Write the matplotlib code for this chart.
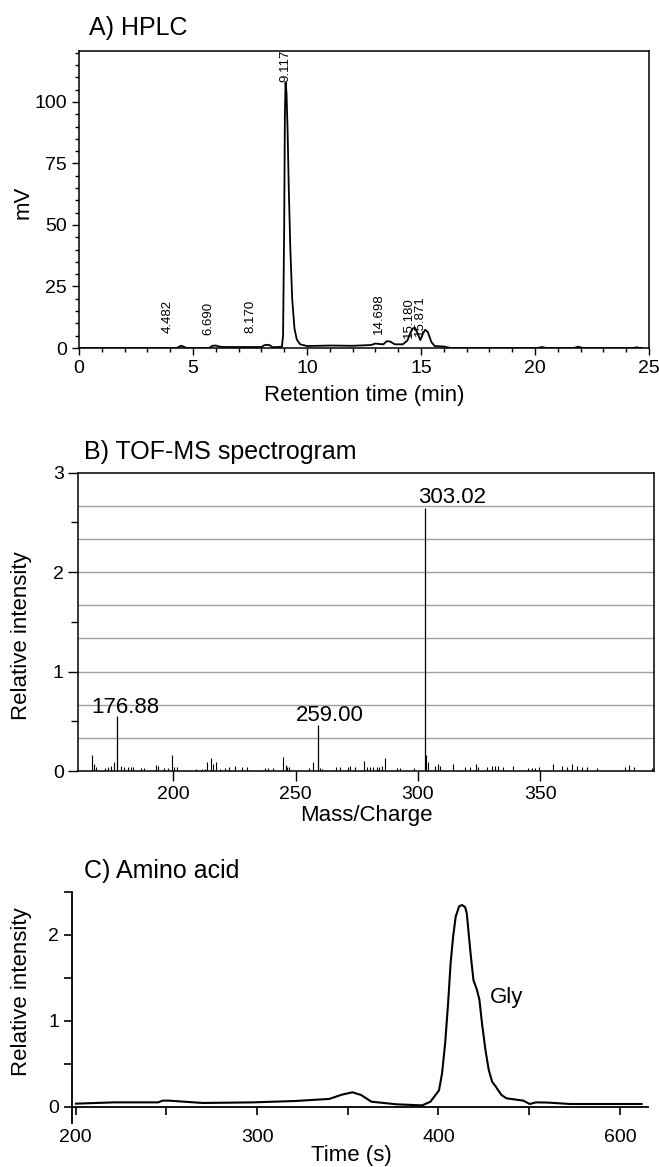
import matplotlib
matplotlib.use("Agg")
import matplotlib.pyplot as plt
from matplotlib.ticker import MultipleLocator, FixedLocator

plt.rcParams['font.family'] = ['Liberation Sans', 'DejaVu Sans']

# ---------------- Panel A: HPLC chromatogram ----------------
hplc_time = [0.0, 4.3, 4.42, 4.5, 4.58, 4.7, 5.7, 5.85, 6.0, 6.2, 6.5, 8.0, 8.12, 8.2, 8.35, 8.5,
             8.9, 8.95, 9.0, 9.03, 9.06, 9.1, 9.15, 9.2, 9.27, 9.35, 9.45, 9.55, 9.7, 10.0,
             11.0, 12.0, 12.8, 13.0, 13.2, 13.35, 13.5, 13.65, 13.85, 14.2, 14.4, 14.55, 14.65,
             14.74, 14.85, 14.97, 15.07, 15.18, 15.3, 15.45, 15.6, 16.0, 16.3,
             20.1, 20.3, 20.5, 21.7, 21.9, 22.1, 24.3, 24.45, 24.6, 24.7]
hplc_mv = [0.0, 0.0, 0.7, 0.9, 0.6, 0.0, 0.0, 0.9, 1.0, 0.5, 0.4, 0.4, 1.1, 1.3, 1.2, 0.3,
           0.5, 5.0, 50.0, 95.0, 108.0, 104.0, 88.0, 65.0, 40.0, 20.0, 8.0, 3.5, 1.5, 0.8,
           1.0, 0.9, 1.2, 1.8, 1.6, 1.5, 2.8, 2.6, 1.5, 1.5, 3.0, 6.5, 8.0,
           8.2, 6.0, 3.2, 5.5, 7.4, 6.5, 2.5, 0.8, 0.6, 0.0,
           0.0, 0.4, 0.0, 0.0, 0.5, 0.0, 0.0, 0.3, 0.0, 0.0]
hplc_labels = ["4.482", "6.690", "8.170", "9.117", "14.698", "15.180", "15.871"]
hplc_label_x = [3.90, 5.66, 7.53, 9.05, 13.16, 14.46, 14.96]
hplc_label_y = [6.1, 5.3, 6.1, 108.3, 5.5, 4.1, 5.0]

# ---------------- Panel B: TOF-MS spectrum ----------------
ms_main_mz = [176.88, 259.00, 303.02]
ms_main_int = [0.556, 0.463, 2.643]
ms_label_x = [180.4, 263.8, 313.8]
ms_label_y = [0.584, 0.503, 2.696]
ms_noise_mz = [167.0, 167.7, 168.4, 172.1, 173.4, 174.4, 175.9, 178.6, 180.0, 181.6, 182.6, 183.6,
               186.8, 188.0, 192.8, 193.9, 196.2, 198.0, 199.5, 200.4, 201.4, 209.3, 211.6, 213.0,
               213.9, 215.3, 216.1, 217.5, 219.1, 221.3, 222.9, 225.2, 228.0, 230.0, 237.5, 238.8,
               240.9, 245.0, 246.0, 246.6, 247.4, 255.6, 257.0, 260.0, 260.7, 266.5, 268.2, 271.5,
               272.2, 274.3, 278.0, 279.1, 280.4, 281.8, 283.2, 284.2, 285.2, 286.5, 291.3, 292.7,
               298.4, 303.5, 304.2, 307.0, 308.0, 309.0, 314.5, 319.3, 321.3, 323.6, 324.4, 328.1,
               330.2, 331.5, 332.9, 334.9, 339.0, 345.1, 346.5, 347.9, 349.6, 355.4, 358.8, 360.8,
               362.9, 364.9, 367.0, 369.0, 373.1, 384.7, 386.4, 388.1, 395.5]
ms_noise_int = [0.161, 0.067, 0.044, 0.034, 0.044, 0.050, 0.087, 0.050, 0.037, 0.037, 0.037, 0.037,
                0.027, 0.027, 0.060, 0.050, 0.027, 0.027, 0.161, 0.044, 0.044, 0.017, 0.017, 0.017,
                0.087, 0.128, 0.067, 0.094, 0.017, 0.034, 0.044, 0.050, 0.044, 0.044, 0.027, 0.034,
                0.027, 0.144, 0.060, 0.044, 0.037, 0.027, 0.087, 0.027, 0.017, 0.037, 0.037, 0.044,
                0.050, 0.037, 0.100, 0.044, 0.037, 0.037, 0.044, 0.044, 0.050, 0.128, 0.034, 0.034,
                0.034, 0.161, 0.094, 0.050, 0.067, 0.050, 0.067, 0.037, 0.037, 0.070, 0.044, 0.037,
                0.050, 0.050, 0.050, 0.044, 0.050, 0.027, 0.027, 0.027, 0.037, 0.067, 0.050, 0.044,
                0.067, 0.050, 0.044, 0.037, 0.027, 0.044, 0.060, 0.044, 0.027]

# ---------------- Panel C: amino acid trace ----------------
aa_time = [200.1, 221.1, 245.5, 247.8, 251.3, 270.0, 297.9, 321.1, 339.8, 346.8, 352.6, 357.3,
           363.0, 377.0, 391.0, 395.6, 400.3, 402.0, 403.7, 405.3, 406.7, 408.1, 409.5, 411.4,
           413.0, 414.7, 415.6, 416.5, 417.9, 419.3, 421.2, 422.6, 424.0, 425.9, 427.7, 429.6,
           431.7, 434.7, 437.5, 446.8, 450.3, 453.8, 460.8, 472.5, 512.0]
aa_int = [0.035, 0.050, 0.050, 0.070, 0.070, 0.043, 0.050, 0.066, 0.090, 0.140, 0.167, 0.136,
          0.058, 0.027, 0.015, 0.058, 0.190, 0.390, 0.740, 1.200, 1.670, 1.980, 2.210, 2.330,
          2.345, 2.320, 2.250, 2.050, 1.740, 1.470, 1.360, 1.240, 0.970, 0.660, 0.430, 0.290,
          0.230, 0.136, 0.097, 0.070, 0.031, 0.050, 0.047, 0.031, 0.031]
aa_ticks = [200, 250, 300, 350, 400, 450, 500]
aa_ticklabels = ["200", "", "300", "", "400", "", "600"]

W, H = 659, 1167
fig = plt.figure(figsize=(W / 100, H / 100), dpi=100)

def frac(left, top, right, bottom):
    return [left / W, 1 - bottom / H, (right - left) / W, (bottom - top) / H]

TICK_FS = 14
LAB_FS = 16
TITLE_FS = 18

# ---- A ----
axA = fig.add_axes(frac(79, 51, 649, 348))
axA.plot(hplc_time, hplc_mv, color='black', lw=1.3)
axA.set_xlim(0, 25)
axA.set_ylim(0, 120.7)
axA.xaxis.set_major_locator(MultipleLocator(5))
axA.xaxis.set_minor_locator(MultipleLocator(1))
axA.yaxis.set_major_locator(FixedLocator([0, 25, 50, 75, 100]))
axA.yaxis.set_minor_locator(MultipleLocator(5))
axA.tick_params(which='both', direction='out', top=False, right=False, labelsize=TICK_FS, width=1)
axA.tick_params(which='major', length=5)
axA.tick_params(which='minor', length=3)
for lab, x, y in zip(hplc_labels, hplc_label_x, hplc_label_y):
    axA.text(x, y, lab, rotation=90, ha='center', va='bottom', fontsize=9.5)
axA.set_ylabel("mV", fontsize=LAB_FS)
axA.yaxis.set_label_coords(-0.079, 0.49)
axA.set_xlabel("Retention time (min)", fontsize=LAB_FS, labelpad=6)
for s in axA.spines.values():
    s.set_linewidth(1.1)
fig.text(89 / W, 1 - 28 / H, "A) HPLC", fontsize=TITLE_FS, ha='left', va='center')

# ---- B ----
axB = fig.add_axes(frac(78.3, 472.7, 654.3, 771))
axB.vlines(ms_noise_mz, 0, ms_noise_int, color='black', lw=0.8)
axB.vlines(ms_main_mz, 0, ms_main_int, color='black', lw=0.9)
for v, x, y in zip(ms_main_mz, ms_label_x, ms_label_y):
    axB.text(x, y, f"{v:.2f}", ha='center', va='baseline', fontsize=LAB_FS)
axB.set_xlim(161.2, 396.6)
axB.set_ylim(0, 3)
for g in [1/3, 2/3, 1, 4/3, 5/3, 2, 7/3, 8/3]:
    axB.axhline(g, color='#a0a0a0', lw=1.0, zorder=0)
axB.xaxis.set_major_locator(FixedLocator([200, 250, 300, 350]))
axB.yaxis.set_major_locator(FixedLocator([0, 1, 2, 3]))
axB.yaxis.set_minor_locator(FixedLocator([0.5, 1.5, 2.5]))
axB.tick_params(which='both', direction='out', top=False, right=False, labelsize=TICK_FS, width=1)
axB.tick_params(which='major', length=7)
axB.tick_params(which='minor', length=5)
axB.set_ylabel("Relative intensity", fontsize=LAB_FS)
axB.yaxis.set_label_coords(-0.081, 0.453)
axB.set_xlabel("Mass/Charge", fontsize=LAB_FS, labelpad=2)
for s in axB.spines.values():
    s.set_linewidth(1.1)
fig.text(84.4 / W, 1 - 452 / H, "B) TOF-MS spectrogram", fontsize=TITLE_FS, ha='left', va='center')

# ---- C ----
axC = fig.add_axes(frac(72.3, 891.7, 648.3, 1123))
axC.plot(aa_time, aa_int, color='black', lw=1.5)
axC.set_xlim(198.1, 515.7)
axC.set_ylim(-0.19, 2.5)
axC.spines['top'].set_visible(False)
axC.spines['right'].set_visible(False)
axC.spines['bottom'].set_position(('data', 0))
for s in axC.spines.values():
    s.set_linewidth(1.3)
axC.xaxis.set_major_locator(FixedLocator(aa_ticks))
axC.set_xticklabels(aa_ticklabels)
axC.yaxis.set_major_locator(FixedLocator([0, 1, 2]))
axC.yaxis.set_minor_locator(FixedLocator([0.5, 1.5, 2.5]))
axC.tick_params(which='both', direction='out', labelsize=TICK_FS, width=1.2, length=6)
axC.tick_params(axis='x', pad=10)
axC.text(428.2, 1.20, "Gly", ha='left', va='baseline', fontsize=LAB_FS)
axC.set_ylabel("Relative intensity", fontsize=LAB_FS)
axC.yaxis.set_label_coords(-0.0705, 0.57)
fig.text(351 / W, 1 - 1156 / H, "Time (s)", fontsize=LAB_FS, ha='center', va='center')
fig.text(84.4 / W, 1 - 871 / H, "C) Amino acid", fontsize=TITLE_FS, ha='left', va='center')

fig.savefig("out.png", dpi=100)
